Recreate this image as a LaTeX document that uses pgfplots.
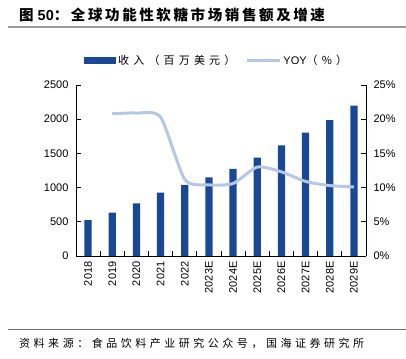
\documentclass[border=0pt]{standalone}
\usepackage{pgfplots}
\pgfplotsset{compat=1.18}
\usepackage{fontspec}
\setmainfont{Liberation Sans}
\newfontfamily\cjktitle{Noto Sans CJK SC}[LetterSpace=18]
\newfontfamily\cjkleg{Noto Sans CJK SC}[LetterSpace=38]
\newfontfamily\cjksrc{Noto Sans CJK SC}[LetterSpace=32]
\definecolor{barblue}{RGB}{26,72,148}
\definecolor{lineblue}{RGB}{180,199,231}
\definecolor{rulegray}{RGB}{110,110,110}
\pgfplotstableread{
x val yoy
0 526 nan
1 633 20.8
2 770 20.9
3 925 20.3
4 1038 11.2
5 1150 10.4
6 1272 10.6
7 1437 13.0
8 1618 12.3
9 1803 10.9
10 1988 10.3
11 2197 10.1
}\datatable
\begin{document}
\begin{tikzpicture}
\path[use as bounding box] (0pt,0pt) rectangle (406pt,358pt);
\draw[rulegray!70, line width=1.5pt] (8pt,331pt) -- (406pt,331pt);
\node[anchor=west, inner sep=0pt] at (19pt,343pt) {\fontsize{14.5}{16}\selectfont\bfseries\cjktitle 图\hspace{4pt}{\fontspec{Liberation Sans}\bfseries 50}：全球功能性软糖市场销售额及增速};
\draw[rulegray, line width=0.8pt] (8pt,29pt) -- (406pt,29pt);
\node[anchor=west, inner sep=0pt] at (19pt,15pt) {\fontsize{11}{13}\selectfont\cjksrc 资料来源：食品饮料产业研究公众号，国海证券研究所};
\begin{axis}[
  at={(76pt,102pt)}, anchor=south west,
  scale only axis, width=290pt, height=171pt,
  xmin=-0.5, xmax=11.5, ymin=0, ymax=2500,
  axis x line*=bottom, axis y line*=left,
  axis line style={black, line width=0.8pt},
  ytick={0,500,...,2500},
  xtick={0,...,11},
  xticklabels={2018,2019,2020,2021,2022,2023E,2024E,2025E,2026E,2027E,2028E,2029E},
  major x tick style={draw=none},
  minor xtick={-0.5,0.5,...,11.5},
  minor tick length=5pt,
  major tick length=5pt,
  tick align=inside,
  tick style={black, line width=0.8pt},
  x tick label style={rotate=90, anchor=east, yshift=0pt, xshift=-2pt},
  tick label style={font=\fontsize{11}{13}\selectfont},
  /pgf/number format/assume math mode=true,
  /pgf/number format/1000 sep={},
  y tick label style={xshift=-4pt},
  legend style={at={(axis description cs:0.485,1)}, anchor=center, yshift=24pt, draw=none, fill=none,
    font=\fontsize{11}{13}\selectfont\cjkleg, legend columns=2,
    /tikz/every even column/.append style={column sep=8pt}},
  legend cell align=left,
  clip=false,
]
\addplot[ybar, bar width=7.3pt, fill=barblue, draw=none,
  legend image code/.code={\fill[barblue] (0pt,-3.5pt) rectangle (32pt,3.5pt);}]
  table[x=x, y=val] {\datatable};
\addlegendentry{收入（百万美元）}
\addlegendimage{lineblue, line width=3pt, legend image code/.code={\draw[lineblue, line width=3pt] (0pt,0pt) -- (33pt,0pt);}}
\addlegendentry{{\fontspec{Liberation Sans}YOY}（\%）}
\end{axis}
\begin{axis}[
  at={(76pt,102pt)}, anchor=south west,
  scale only axis, width=290pt, height=171pt,
  xmin=-0.5, xmax=11.5, ymin=0, ymax=25,
  axis x line=none, axis y line*=right,
  axis line style={black, line width=0.8pt},
  ytick={0,5,...,25},
  yticklabel={\pgfmathprintnumber{\tick}\%},
  tick align=inside,
  major tick length=5pt,
  tick style={black, line width=0.8pt},
  tick label style={font=\fontsize{11}{13}\selectfont},
  /pgf/number format/assume math mode=true,
  y tick label style={xshift=4pt},
]
\addplot[lineblue, line width=3pt, smooth, tension=0.4, unbounded coords=discard]
  table[x=x, y=yoy] {\datatable};
\end{axis}
\end{tikzpicture}
\end{document}
